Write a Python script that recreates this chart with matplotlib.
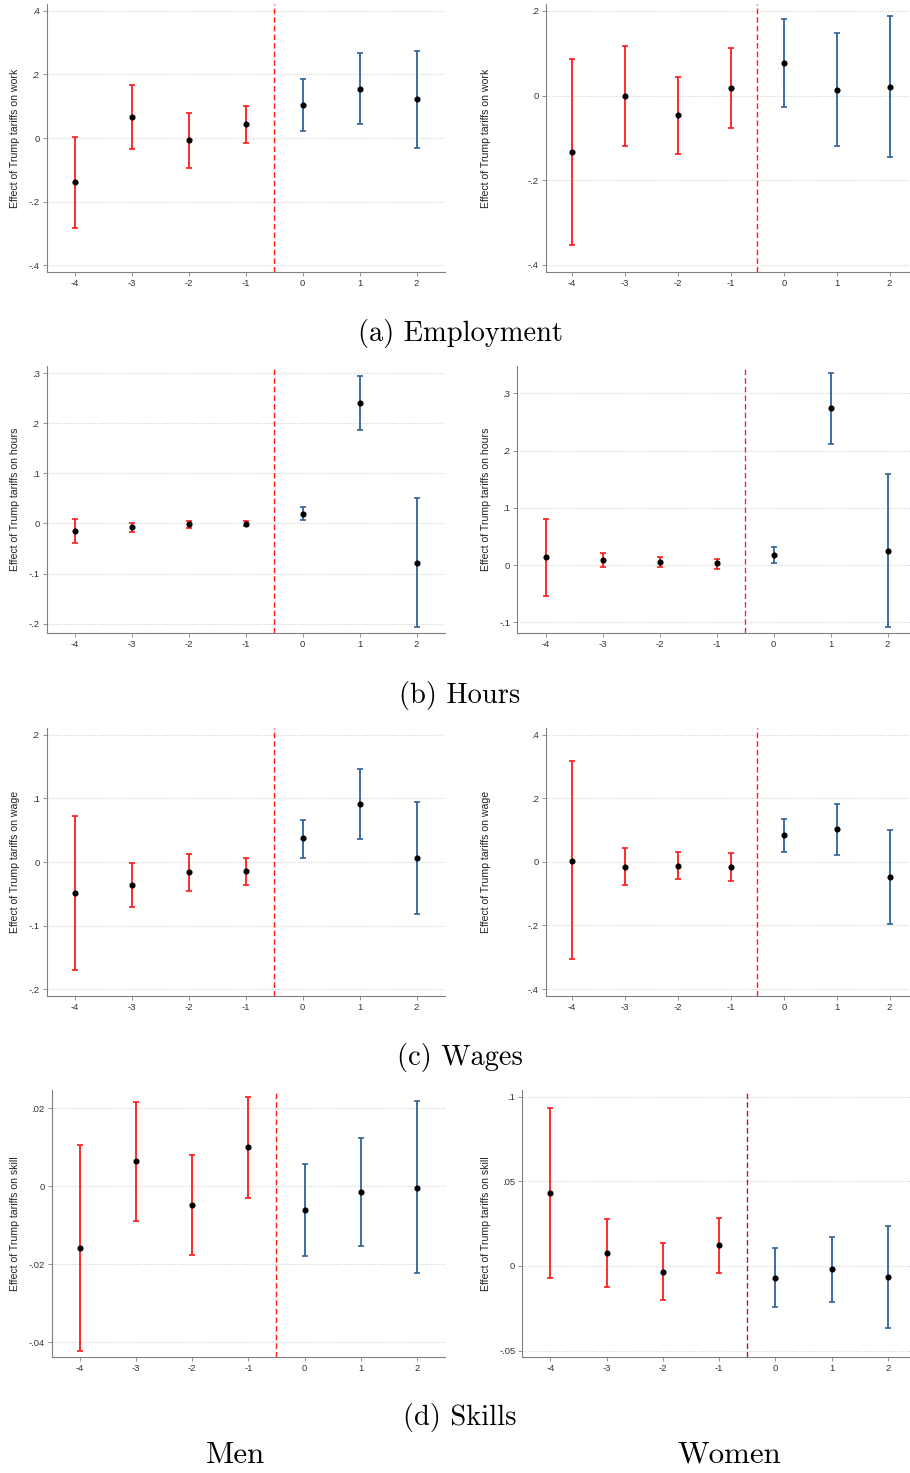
#Event-study plots of Trump tariff effects for men and women (4 outcomes x 2 groups)

import matplotlib.pyplot as plt
import numpy as np

#Periods relative to the tariff
periods = [-4, -3, -2, -1, 0, 1, 2]

#Employment (work)
men_work_est = [-0.139, 0.067, -0.007, 0.043, 0.104, 0.154, 0.123]
men_work_lo = [-0.283, -0.035, -0.093, -0.016, 0.021, 0.044, -0.031]
men_work_hi = [0.004, 0.168, 0.078, 0.101, 0.187, 0.267, 0.274]
women_work_est = [-0.134, -0.002, -0.046, 0.017, 0.076, 0.014, 0.021]
women_work_lo = [-0.354, -0.119, -0.138, -0.077, -0.028, -0.118, -0.145]
women_work_hi = [0.087, 0.117, 0.045, 0.113, 0.180, 0.147, 0.189]

#Hours
men_hours_est = [-0.016, -0.008, -0.002, -0.001, 0.019, 0.240, -0.078]
men_hours_lo = [-0.039, -0.017, -0.009, -0.006, 0.007, 0.186, -0.207]
men_hours_hi = [0.008, 0.001, 0.004, 0.005, 0.033, 0.294, 0.050]
women_hours_est = [0.014, 0.009, 0.005, 0.003, 0.017, 0.274, 0.025]
women_hours_lo = [-0.053, -0.003, -0.004, -0.006, 0.003, 0.212, -0.108]
women_hours_hi = [0.080, 0.022, 0.014, 0.011, 0.031, 0.336, 0.159]

#Wages
men_wage_est = [-0.049, -0.036, -0.016, -0.014, 0.037, 0.091, 0.007]
men_wage_lo = [-0.170, -0.070, -0.045, -0.036, 0.007, 0.036, -0.082]
men_wage_hi = [0.072, -0.002, 0.013, 0.007, 0.066, 0.146, 0.095]
women_wage_est = [0.004, -0.015, -0.012, -0.015, 0.084, 0.102, -0.047]
women_wage_lo = [-0.307, -0.073, -0.053, -0.059, 0.031, 0.021, -0.194]
women_wage_hi = [0.316, 0.043, 0.030, 0.029, 0.136, 0.182, 0.100]

#Skills
men_skill_est = [-0.0157, 0.0064, -0.0048, 0.0100, -0.0060, -0.0015, -0.0003]
men_skill_lo = [-0.0421, -0.0088, -0.0176, -0.0030, -0.0178, -0.0154, -0.0221]
men_skill_hi = [0.0107, 0.0217, 0.0080, 0.0230, 0.0058, 0.0125, 0.0218]
women_skill_est = [0.0432, 0.0077, -0.0035, 0.0124, -0.0069, -0.0020, -0.0067]
women_skill_lo = [-0.0073, -0.0122, -0.0203, -0.0039, -0.0244, -0.0213, -0.0369]
women_skill_hi = [0.0936, 0.0278, 0.0134, 0.0286, 0.0106, 0.0173, 0.0237]

#Y ticks and their Stata style labels
work_men_ticks = [-0.4, -0.2, 0, 0.2, 0.4]
work_men_labels = ["-.4", "-.2", "0", ".2", ".4"]
work_women_ticks = [-0.4, -0.2, 0, 0.2]
work_women_labels = ["-.4", "-.2", "0", ".2"]
hours_men_ticks = [-0.2, -0.1, 0, 0.1, 0.2, 0.3]
hours_men_labels = ["-.2", "-.1", "0", ".1", ".2", ".3"]
hours_women_ticks = [-0.1, 0, 0.1, 0.2, 0.3]
hours_women_labels = ["-.1", "0", ".1", ".2", ".3"]
wage_men_ticks = [-0.2, -0.1, 0, 0.1, 0.2]
wage_men_labels = ["-.2", "-.1", "0", ".1", ".2"]
wage_women_ticks = [-0.4, -0.2, 0, 0.2, 0.4]
wage_women_labels = ["-.4", "-.2", "0", ".2", ".4"]
skill_men_ticks = [-0.04, -0.02, 0, 0.02]
skill_men_labels = ["-.04", "-.02", "0", ".02"]
skill_women_ticks = [-0.05, 0, 0.05, 0.1]
skill_women_labels = ["-.05", "0", ".05", ".1"]

captions = ["(a) Employment", "(b) Hours", "(c) Wages", "(d) Skills"]
groups = ["Men", "Women"]

W, H = 910, 1473
fig = plt.figure(figsize=(W / 100, H / 100), dpi=100)

red = "#ff1a1a"
blue = "#2e639a"


def add_panel(box, est, lo, hi, ticks, labels, ylim, ylabel, label_x, vcolor):
    #box is (left, top, right, bottom) in pixels
    l, t, r, b = box
    ax = fig.add_axes([l / W, 1 - b / H, (r - l) / W, (b - t) / H])
    est = np.array(est)
    lo = np.array(lo)
    hi = np.array(hi)
    x = np.array(periods)
    pre = x < 0
    post = x >= 0
    for mask, col in [(pre, red), (post, blue)]:
        ax.errorbar(x[mask], est[mask], yerr=[est[mask] - lo[mask], hi[mask] - est[mask]],
                    fmt="none", ecolor=col, elinewidth=1.3, capsize=2, capthick=1.2)
    ax.plot(x, est, "o", color="black", ms=3.4, zorder=5)
    ax.axvline(-0.5, color=vcolor, ls=(0, (4, 2.2)), lw=1.0)
    ax.set_xlim(-4.5, 2.5)
    ax.set_ylim(ylim)
    ax.set_xticks(periods)
    ax.set_xticklabels([str(p) for p in periods])
    ax.set_yticks(ticks)
    ax.set_yticklabels(labels)
    for yv in ticks:
        ax.axhline(yv, color="#d0d0d0", ls=(0, (1, 1.5)), lw=0.8, zorder=0)
    for s in ["top", "right"]:
        ax.spines[s].set_visible(False)
    for s in ["left", "bottom"]:
        ax.spines[s].set_color("#808080")
        ax.spines[s].set_linewidth(0.8)
    ax.tick_params(length=3, width=0.6, color="#808080", labelsize=6.8,
                   labelcolor="#333333", pad=2)
    for lab in ax.get_xticklabels() + ax.get_yticklabels():
        lab.set_family("Liberation Sans")
    fig.text(label_x / W, 1 - (t + b) / 2 / H, ylabel, rotation=90, ha="center",
             va="center", fontsize=7.6, family="Liberation Sans", color="#222222")
    return ax


#Men column (left) and women column (right)
add_panel((46.5, 4, 445, 271.7), men_work_est, men_work_lo, men_work_hi,
          work_men_ticks, work_men_labels, (-0.421, 0.422),
          "Effect of Trump tariffs on work", 15, red)
add_panel((545.7, 4, 916, 271.7), women_work_est, women_work_lo, women_work_hi,
          work_women_ticks, work_women_labels, (-0.416, 0.2165),
          "Effect of Trump tariffs on work", 486, red)
add_panel((46.5, 366, 445, 633.3), men_hours_est, men_hours_lo, men_hours_hi,
          hours_men_ticks, hours_men_labels, (-0.219, 0.314),
          "Effect of Trump tariffs on hours", 15, red)
add_panel((517.3, 366, 916, 633.3), women_hours_est, women_hours_lo, women_hours_hi,
          hours_women_ticks, hours_women_labels, (-0.119, 0.348),
          "Effect of Trump tariffs on hours", 486, "#e83030")
add_panel((46.5, 728.3, 445, 995.7), men_wage_est, men_wage_lo, men_wage_hi,
          wage_men_ticks, wage_men_labels, (-0.21, 0.21),
          "Effect of Trump tariffs on wage", 15, red)
add_panel((545.7, 728.3, 916, 995.7), women_wage_est, women_wage_lo, women_wage_hi,
          wage_women_ticks, wage_women_labels, (-0.421, 0.42),
          "Effect of Trump tariffs on wage", 486, red)
add_panel((51.7, 1090, 445, 1357.3), men_skill_est, men_skill_lo, men_skill_hi,
          skill_men_ticks, skill_men_labels, (-0.0438, 0.0247),
          "Effect of Trump tariffs on skill", 15, red)
add_panel((522.3, 1090, 916, 1357.3), women_skill_est, women_skill_lo, women_skill_hi,
          skill_women_ticks, skill_women_labels, (-0.054, 0.104),
          "Effect of Trump tariffs on skill", 486, "#c81414")

#Panel captions and the column names
caption_y = [333, 695, 1057, 1418]
for cap, yy in zip(captions, caption_y):
    fig.text(460 / W, 1 - yy / H, cap, ha="center", va="center", fontsize=20.5,
             family="cmr10")
fig.text(235 / W, 1 - 1455 / H, groups[0], ha="center", va="center", fontsize=22.3,
         family="cmr10")
fig.text(729 / W, 1 - 1455 / H, groups[1], ha="center", va="center", fontsize=22.3,
         family="cmr10")

plt.savefig("out.png", dpi=100)
